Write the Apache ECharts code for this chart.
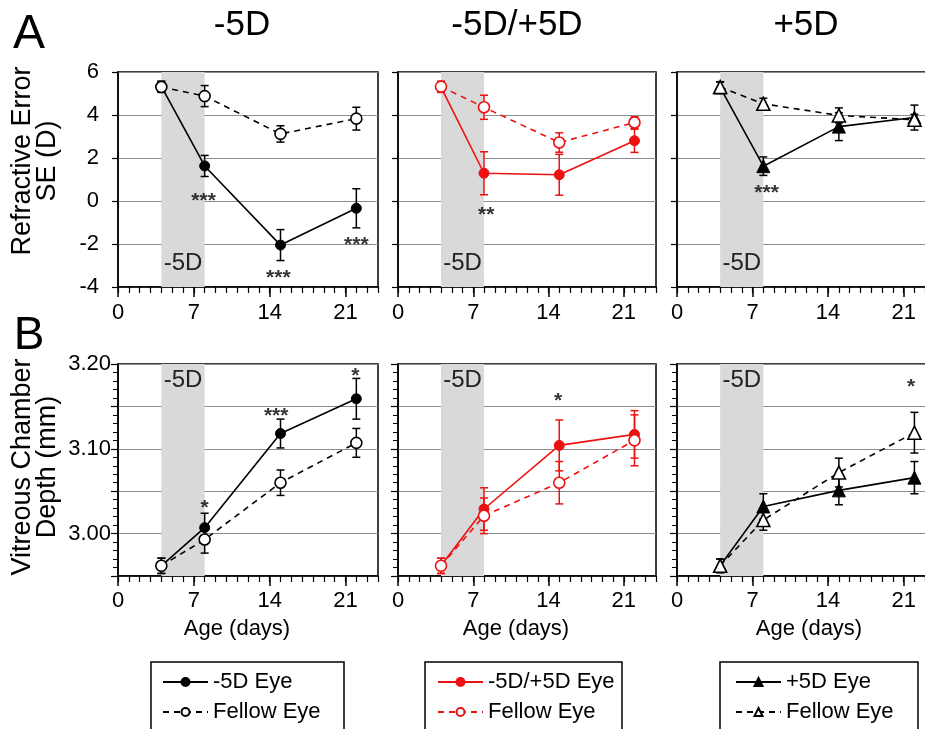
<!DOCTYPE html>
<html><head><meta charset="utf-8">
<script src="https://cdn.jsdelivr.net/npm/echarts@6/dist/echarts.min.js"></script>
<style>html,body{margin:0;padding:0;background:#fff}#c{width:925px;height:729px}</style>
</head><body><div id="c"></div>
<script>
// ---------------- DATA ----------------
const days = [4, 8, 15, 22];
const xTickValues = [0, 7, 14, 21];
const panelTitles = ['-5D', '-5D/+5D', '+5D'];
const treatedNames = ['-5D Eye', '-5D/+5D Eye', '+5D Eye'];
const fellowNames = ['Fellow Eye', 'Fellow Eye ', 'Fellow Eye  '];
const lensPeriod = [4, 8];
const lensLabel = '-5D';
const reAxisName = 'Refractive Error\nSE (D)';
const vcAxisName = 'Vitreous Chamber\nDepth (mm)';
const xAxisName = 'Age (days)';

// Refractive error SE (D), mean and SE
const reTreatedM5 = [5.33, 1.63, -2.05, -0.34];
const reTreatedM5Err = [0.25, 0.49, 0.72, 0.91];
const reFellowM5 = [5.30, 4.88, 3.12, 3.83];
const reFellowM5Err = [0.25, 0.49, 0.38, 0.53];

const reTreatedPM = [5.30, 1.29, 1.22, 2.80];
const reTreatedPMErr = [0.25, 1.00, 0.95, 0.54];
const reFellowPM = [5.32, 4.36, 2.72, 3.65];
const reFellowPMErr = [0.25, 0.56, 0.45, 0.27];

const reTreatedP5 = [5.28, 1.62, 3.46, 3.88];
const reTreatedP5Err = [0.25, 0.43, 0.65, 0.58];
const reFellowP5 = [5.30, 4.52, 3.98, 3.78];
const reFellowP5Err = [0.25, 0.26, 0.35, 0.25];

// Vitreous chamber depth (mm), mean and SE
const vcTreatedM5 = [2.962, 3.007, 3.118, 3.159];
const vcTreatedM5Err = [0.009, 0.017, 0.017, 0.024];
const vcFellowM5 = [2.962, 2.993, 3.060, 3.107];
const vcFellowM5Err = [0.009, 0.016, 0.015, 0.017];

const vcTreatedPM = [2.962, 3.029, 3.104, 3.117];
const vcTreatedPMErr = [0.009, 0.025, 0.030, 0.028];
const vcFellowPM = [2.962, 3.021, 3.060, 3.110];
const vcFellowPMErr = [0.009, 0.021, 0.025, 0.030];

const vcTreatedP5 = [2.962, 3.032, 3.051, 3.066];
const vcTreatedP5Err = [0.008, 0.015, 0.017, 0.019];
const vcFellowP5 = [2.962, 3.016, 3.072, 3.119];
const vcFellowP5Err = [0.008, 0.012, 0.017, 0.024];

// significance marks [day, value, text]
const starsReM5 = [[7.9, 0.2, '***'], [14.8, -3.36, '***'], [22.0, -1.81, '***']];
const starsRePM = [[8.2, -0.42, '**']];
const starsReP5 = [[8.3, 0.59, '***']];
const starsVcM5 = [[8.0, 3.036, '*'], [14.6, 3.144, '***'], [21.9, 3.191, '*']];
const starsVcPM = [[14.9, 3.162, '*']];
const starsVcP5 = [[21.7, 3.178, '*']];

// ---------------- LAYOUT ----------------
const FONT = 'Liberation Sans, Arial, Helvetica, sans-serif';
const RED = '#ee1111';
const colLeft = [118, 398, 677];
const colWidth = [260, 258, 259];
const rowTop = [72, 364];
const rowHeight = [215, 212];

const panels = [
  {row:0, col:0, tr:reTreatedM5, trE:reTreatedM5Err, fe:reFellowM5, feE:reFellowM5Err, color:'#000', sym:'circle', stars:starsReM5},
  {row:0, col:1, tr:reTreatedPM, trE:reTreatedPMErr, fe:reFellowPM, feE:reFellowPMErr, color:RED, sym:'circle', stars:starsRePM},
  {row:0, col:2, tr:reTreatedP5, trE:reTreatedP5Err, fe:reFellowP5, feE:reFellowP5Err, color:'#000', sym:'triangle', stars:starsReP5},
  {row:1, col:0, tr:vcTreatedM5, trE:vcTreatedM5Err, fe:vcFellowM5, feE:vcFellowM5Err, color:'#000', sym:'circle', stars:starsVcM5},
  {row:1, col:1, tr:vcTreatedPM, trE:vcTreatedPMErr, fe:vcFellowPM, feE:vcFellowPMErr, color:RED, sym:'circle', stars:starsVcPM},
  {row:1, col:2, tr:vcTreatedP5, trE:vcTreatedP5Err, fe:vcFellowP5, feE:vcFellowP5Err, color:'#000', sym:'triangle', stars:starsVcP5}
];

const grids = [], xAxes = [], yAxes = [], series = [];

function errRenderer(color) {
  return function (params, api) {
    const x = api.value(0), lo = api.value(1), hi = api.value(2);
    const a = api.coord([x, lo]), b = api.coord([x, hi]);
    const w = 4;
    const st = {stroke: color, lineWidth: 1.5, fill: null};
    return {type: 'group', children: [
      {type: 'line', shape: {x1: a[0], y1: a[1], x2: b[0], y2: b[1]}, style: st},
      {type: 'line', shape: {x1: a[0] - w, y1: a[1], x2: a[0] + w, y2: a[1]}, style: st},
      {type: 'line', shape: {x1: b[0] - w, y1: b[1], x2: b[0] + w, y2: b[1]}, style: st}
    ]};
  };
}

panels.forEach((p, i) => {
  const top = p.row === 0;
  grids.push({left: colLeft[p.col], width: colWidth[p.col], top: rowTop[p.row], height: rowHeight[p.row],
    show: true, borderColor: '#000', borderWidth: 1.5, backgroundColor: 'transparent',
    containLabel: false, outerBoundsMode: 'none'});
  // main x axis
  xAxes.push({type: 'value', gridIndex: i, min: 0, max: 24, interval: 7, position: 'bottom',
    axisLine: {show: true, onZero: false, lineStyle: {color: '#000', width: 1.5}},
    axisTick: {show: true, length: 10, lineStyle: {color: '#000', width: 1.5}, customValues: xTickValues},
    axisLabel: {show: true, fontSize: 22, fontFamily: FONT, color: '#000', margin: top ? 15 : 14,
      customValues: xTickValues, formatter: v => (xTickValues.indexOf(v) >= 0 ? String(v) : '')},
    splitLine: {show: false}});
  // day ticks
  xAxes.push({type: 'value', gridIndex: i, min: 0, max: 24, interval: 1, position: 'bottom',
    axisLine: {show: false, onZero: false}, axisLabel: {show: false}, splitLine: {show: false},
    axisTick: {show: true, length: 6, lineStyle: {color: '#000', width: 1.2}}});
  if (top) {
    yAxes.push({type: 'value', gridIndex: i, min: -4, max: 6, interval: 2,
      axisLine: {show: true, onZero: false, lineStyle: {color: '#000', width: 1.5}},
      axisTick: {show: true, length: 6, lineStyle: {color: '#000', width: 1.2}},
      axisLabel: {show: p.col === 0, fontSize: 22, fontFamily: FONT, color: '#000', margin: 19},
      splitLine: {show: true, lineStyle: {color: '#8c8c8c', width: 1}}});
  } else {
    yAxes.push({type: 'value', gridIndex: i, min: 2.95, max: 3.20, interval: 0.05,
      axisLine: {show: true, onZero: false, lineStyle: {color: '#000', width: 1.5}},
      axisTick: {show: true, length: 7, lineStyle: {color: '#000', width: 1.2}},
      minorTick: {show: true, splitNumber: 5, length: 5, lineStyle: {color: '#000', width: 1}},
      axisLabel: {show: p.col === 0, fontSize: 22, fontFamily: FONT, color: '#000', margin: 7,
        formatter: v => (Math.abs(v * 10 - Math.round(v * 10)) < 1e-6 ? v.toFixed(2) : '')},
      splitLine: {show: true, lineStyle: {color: '#8c8c8c', width: 1}}});
  }
  const xi = 2 * i, yi = i;
  // lens-wear shading
  series.push({type: 'line', xAxisIndex: xi, yAxisIndex: yi, data: [], z: -1, silent: true,
    markArea: {silent: true, itemStyle: {color: '#d9d9d9'},
      label: {show: true, position: top ? 'insideBottom' : 'insideTop', distance: top ? 12 : 4,
        fontSize: 24, fontFamily: FONT, color: '#222'},
      data: [[{xAxis: lensPeriod[0], name: lensLabel}, {xAxis: lensPeriod[1]}]]}});
  // error bars
  series.push({type: 'custom', xAxisIndex: xi, yAxisIndex: yi, z: 3, silent: true,
    renderItem: errRenderer(p.color), encode: {x: 0, y: [1, 2]},
    data: days.map((d, k) => [d, p.fe[k] - p.feE[k], p.fe[k] + p.feE[k]])});
  series.push({type: 'custom', xAxisIndex: xi, yAxisIndex: yi, z: 3, silent: true,
    renderItem: errRenderer(p.color), encode: {x: 0, y: [1, 2]},
    data: days.map((d, k) => [d, p.tr[k] - p.trE[k], p.tr[k] + p.trE[k]])});
  // treated eye
  series.push({type: 'line', name: treatedNames[p.col], xAxisIndex: xi, yAxisIndex: yi, z: 4,
    data: days.map((d, k) => [d, p.tr[k]]),
    symbol: p.sym, symbolSize: p.sym === 'triangle' ? 13 : 10,
    lineStyle: {color: p.color, width: 1.6, type: 'solid'},
    itemStyle: {color: p.color, borderColor: p.color, borderWidth: 1},
    emphasis: {disabled: true}, animation: false});
  // fellow eye
  series.push({type: 'line', name: fellowNames[p.col], xAxisIndex: xi, yAxisIndex: yi, z: 5,
    data: days.map((d, k) => [d, p.fe[k]]),
    symbol: p.sym, symbolSize: p.sym === 'triangle' ? 13 : 11,
    lineStyle: {color: p.color, width: 1.6, type: [6, 5]},
    itemStyle: {color: '#fff', borderColor: p.color, borderWidth: 1.6},
    emphasis: {disabled: true}, animation: false});
  // significance stars
  series.push({type: 'scatter', xAxisIndex: xi, yAxisIndex: yi, z: 6, silent: true,
    symbolSize: 1, itemStyle: {color: 'rgba(0,0,0,0)'},
    label: {show: true, position: 'inside', formatter: '{b}', fontSize: 21, fontWeight: 'bold',
      fontFamily: FONT, color: '#000', offset: [0, 5]},
    data: p.stars.map(s => ({name: s[2], value: [s[0], s[1]]}))});
});

const graphic = [];
function txt(t, x, y, size, extra) {
  graphic.push(Object.assign({type: 'text', x: x, y: y, silent: true,
    style: {text: t, fontSize: size, fontFamily: FONT, fill: '#000', textAlign: 'center', textVerticalAlign: 'middle'}}, extra || {}));
}
txt('A', 29, 35, 48);
txt('B', 29, 336, 46);
txt(panelTitles[0], 242, 25, 35);
txt(panelTitles[1], 517, 25, 35);
txt(panelTitles[2], 806, 25, 35);
txt(xAxisName, 237, 629, 22);
txt(xAxisName, 516, 629, 22);
txt(xAxisName, 809, 629, 22);
graphic.push({type: 'text', x: 35, y: 161, rotation: Math.PI / 2, silent: true,
  style: {text: reAxisName, fontSize: 27, lineHeight: 25, fontFamily: FONT, fill: '#000', textAlign: 'center', textVerticalAlign: 'middle'}});
graphic.push({type: 'text', x: 35, y: 467, rotation: Math.PI / 2, silent: true,
  style: {text: vcAxisName, fontSize: 27, lineHeight: 25, fontFamily: FONT, fill: '#000', textAlign: 'center', textVerticalAlign: 'middle'}});
// legend frames
[[151, 193], [425, 197], [720, 198]].forEach(b => {
  graphic.push({type: 'rect', silent: true, shape: {x: b[0], y: 662, width: b[1], height: 90},
    style: {fill: 'none', stroke: '#000', lineWidth: 1.5}});
});

const legendLeft = [162, 437, 735];
const legends = [0, 1, 2].map(c => ({
  data: [treatedNames[c], fellowNames[c]], orient: 'vertical', left: legendLeft[c], top: 671,
  itemWidth: 45, itemHeight: 10, itemGap: 8, padding: 0, selectedMode: false,
  textStyle: {fontSize: 22, lineHeight: 22, fontFamily: FONT, color: '#000'}
}));

const chart = echarts.init(document.getElementById('c'), null, {renderer: 'canvas'});
chart.setOption({
  animation: false,
  backgroundColor: '#fff',
  grid: grids, xAxis: xAxes, yAxis: yAxes, series: series,
  legend: legends, graphic: graphic
});
</script></body></html>
